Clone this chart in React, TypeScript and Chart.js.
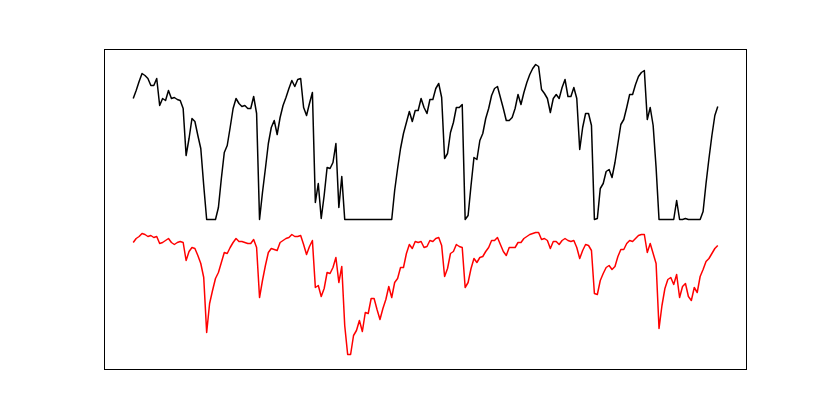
import React, { useEffect, useRef } from "react";
import { Chart, registerables } from "chart.js";

Chart.register(...registerables);

// Black series (upper line), one value per step
const blackSeries: number[] = [
  272, 280, 289, 297, 295, 292, 285, 285, 292, 265,
  272, 270, 280, 272, 273, 271, 270, 262, 215, 232,
  252, 249, 235, 222, 185, 151, 151, 151, 151, 163,
  192, 218, 225, 243, 262, 272, 267, 264, 265, 262,
  262, 274, 257, 151, 178, 202, 227, 243, 250, 236,
  253, 265, 273, 282, 290, 284, 291, 292, 263, 255,
  267, 278, 168, 187, 152, 175, 203, 202, 208, 227,
  163, 194, 151, 151, 151, 151, 151, 151, 151, 151,
  151, 151, 151, 151, 151, 151, 151, 151, 151, 180,
  202, 222, 237, 248, 259, 249, 260, 260, 272, 263,
  257, 271, 271, 282, 287, 273, 212, 217, 238, 248,
  263, 263, 266, 151, 155, 185, 213, 211, 230, 237,
  252, 262, 275, 282, 284, 273, 262, 250, 250, 253,
  262, 276, 266, 278, 288, 296, 302, 306, 304, 281,
  277, 272, 258, 272, 276, 272, 283, 291, 274, 274,
  283, 272, 221, 243, 257, 257, 245, 151, 152, 182,
  187, 199, 201, 193, 208, 227, 246, 251, 263, 276,
  276, 286, 294, 298, 300, 251, 263, 245, 203, 151,
  151, 151, 151, 151, 151, 170, 151, 151, 152, 151,
  151, 151, 151, 151, 159, 187, 212, 235, 255, 264,
];

// Red series (lower line)
const redSeries: number[] = [
  128, 132, 134, 137, 136, 134, 135, 133, 134, 127,
  128, 130, 132, 128, 126, 128, 129, 128, 110, 119,
  123, 122, 115, 107, 93, 38, 67, 80, 92, 98,
  108, 118, 117, 123, 128, 132, 129, 129, 128, 127,
  127, 131, 123, 73, 90, 105, 118, 122, 121, 120,
  128, 130, 132, 133, 136, 134, 134, 135, 126, 116,
  124, 130, 83, 85, 74, 82, 98, 97, 103, 113,
  88, 104, 45, 16, 16, 35, 40, 50, 39, 58,
  57, 72, 72, 61, 51, 62, 71, 84, 73, 88,
  92, 103, 103, 117, 126, 122, 129, 128, 129, 123,
  124, 130, 129, 132, 133, 125, 94, 102, 117, 119,
  126, 124, 123, 83, 88, 102, 112, 108, 113, 114,
  119, 123, 130, 130, 133, 126, 119, 115, 123, 123,
  123, 128, 128, 132, 134, 136, 137, 138, 138, 131,
  132, 130, 122, 129, 129, 126, 130, 132, 130, 129,
  130, 123, 112, 120, 126, 125, 120, 77, 76, 90,
  97, 103, 105, 101, 104, 114, 121, 121, 127, 130,
  129, 132, 135, 136, 136, 118, 127, 117, 107, 42,
  65, 82, 91, 93, 86, 96, 73, 84, 87, 74,
  70, 83, 78, 94, 101, 109, 112, 117, 122, 125,
];

const steps: number[] = blackSeries.map((_, i) => i);

const frame = {
  id: "frame",
  afterDraw(chart: any) {
    const { ctx, chartArea } = chart;
    ctx.save();
    ctx.strokeStyle = "#000000";
    ctx.lineWidth = 1;
    ctx.strokeRect(
      Math.round(chartArea.left) + 0.5,
      Math.round(chartArea.top) - 0.5,
      Math.round(chartArea.right - chartArea.left) - 1,
      Math.round(chartArea.bottom - chartArea.top) + 1
    );
    ctx.restore();
  },
};

export default function App() {
  const ref = useRef<HTMLCanvasElement | null>(null);

  useEffect(() => {
    if (!ref.current) return;
    const all = [...blackSeries, ...redSeries];
    const lo = Math.min(...all);
    const hi = Math.max(...all);
    const ym = (hi - lo) * 0.05;
    const n = steps.length - 1;
    const xm = n * 0.05;

    const chart = new Chart(ref.current, {
      type: "line",
      data: {
        datasets: [
          {
            data: steps.map((x, i) => ({ x, y: blackSeries[i] })),
            borderColor: "#000000",
            borderWidth: 1.5,
            pointRadius: 0,
            tension: 0,
            borderJoinStyle: "round",
            fill: false,
          },
          {
            data: steps.map((x, i) => ({ x, y: redSeries[i] })),
            borderColor: "#ff0000",
            borderWidth: 1.5,
            pointRadius: 0,
            tension: 0,
            borderJoinStyle: "round",
            fill: false,
          },
        ],
      },
      options: {
        animation: false,
        responsive: false,
        devicePixelRatio: 1,
        layout: { padding: { left: 104, top: 50, right: 83, bottom: 46 } },
        plugins: { legend: { display: false }, tooltip: { enabled: false } },
        scales: {
          x: { type: "linear", display: false, min: -xm, max: n + xm },
          y: { type: "linear", display: false, min: lo - ym, max: hi + ym },
        },
      },
      plugins: [frame],
    });
    return () => chart.destroy();
  }, []);

  return (
    <div style={{ position: "fixed", left: 0, top: 0, width: 830, height: 415, background: "#ffffff" }}>
      <canvas ref={ref} width={830} height={415} />
    </div>
  );
}
